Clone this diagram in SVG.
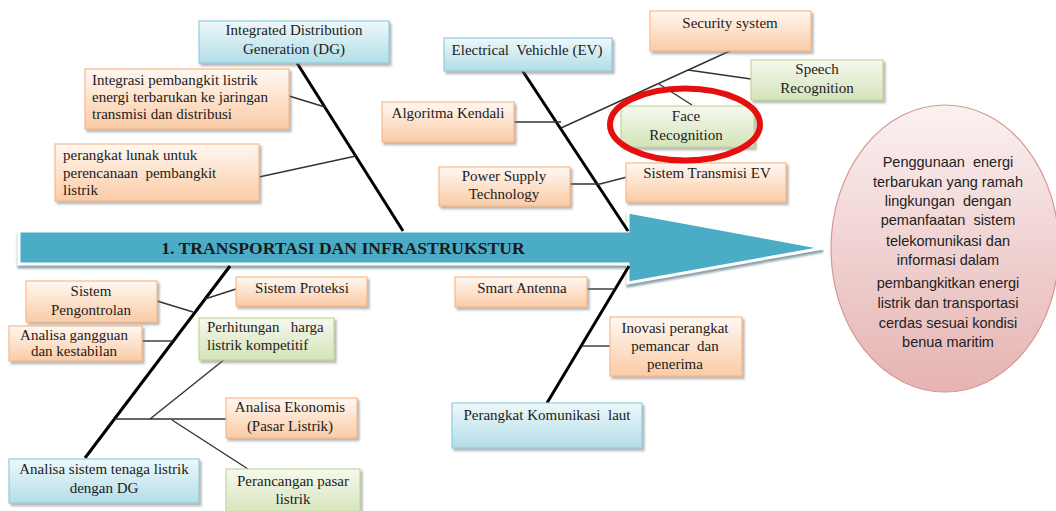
<svg xmlns="http://www.w3.org/2000/svg" width="1056" height="511" viewBox="0 0 1056 511">
<style>
.t{font-family:"Liberation Serif","Times New Roman",serif;font-size:15px;fill:#1c1c1c;white-space:pre}
.c{text-anchor:middle}
.o{fill:url(#gO);stroke:#F7B98A;stroke-width:1.2}
.b{fill:url(#gB);stroke:#92CDDC;stroke-width:1.2}
.g{fill:url(#gG);stroke:#C3D69B;stroke-width:1.2}
.sp{stroke:#000;stroke-width:3;fill:none}
.br{stroke:#333;stroke-width:1.4;fill:none}
.el{font-family:"Liberation Sans",Arial,sans-serif;font-size:14.5px;fill:#222;text-anchor:middle;white-space:pre}
</style>
<defs>
<linearGradient id="gO" x1="0" y1="0" x2="0" y2="1"><stop offset="0" stop-color="#FFF8F2"/><stop offset="1" stop-color="#FBCBA5"/></linearGradient>
<linearGradient id="gB" x1="0" y1="0" x2="0" y2="1"><stop offset="0" stop-color="#EEF8FA"/><stop offset="1" stop-color="#B3DDE8"/></linearGradient>
<linearGradient id="gG" x1="0" y1="0" x2="0" y2="1"><stop offset="0" stop-color="#F6F9EF"/><stop offset="1" stop-color="#D4E3B8"/></linearGradient>
<linearGradient id="gE" x1="0" y1="0" x2="0" y2="1"><stop offset="0" stop-color="#FBF1F1"/><stop offset="1" stop-color="#E5B3B2"/></linearGradient>
<filter id="sh" x="-10%" y="-10%" width="130%" height="140%"><feDropShadow dx="2" dy="2.5" stdDeviation="1" flood-color="#777" flood-opacity="0.55"/></filter>
<filter id="ash" x="-5%" y="-20%" width="110%" height="150%"><feDropShadow dx="0" dy="3" stdDeviation="1.2" flood-color="#6a8a90" flood-opacity="0.8"/></filter>
</defs>

<g id="arrow">
<polygon points="19,231 628,231 628,212 823,248 628,283 628,264 19,264" fill="#4BACC6" stroke="#fff" stroke-width="3" filter="url(#ash)"/>
<text x="343" y="254" class="c" style="font-family:'Liberation Serif','Times New Roman',serif;font-weight:bold;font-size:17.6px;fill:#1a1a1a">1. TRANSPORTASI DAN INFRASTRUKSTUR</text>
</g>

<g id="connectors">
<line class="sp" x1="297" y1="63" x2="403" y2="231"/>
<line class="sp" x1="522" y1="70" x2="628" y2="231"/>
<line class="sp" x1="230" y1="266" x2="85" y2="458"/>
<line class="sp" x1="629" y1="266" x2="547" y2="403"/>
<line class="br" x1="289" y1="96" x2="325" y2="107"/>
<line class="br" x1="259" y1="177" x2="356" y2="156"/>
<polyline class="br" points="514,122 561,122"/>
<line class="br" x1="561" y1="128" x2="732" y2="50"/>
<line class="br" x1="688" y1="70" x2="751" y2="79"/>
<line class="br" x1="659" y1="84" x2="692" y2="105"/>
<polyline class="br" points="570,184 600,184 627,177"/>
<line class="br" x1="157" y1="301" x2="193" y2="312"/>
<line class="br" x1="236" y1="289" x2="205" y2="299"/>
<line class="br" x1="142" y1="341" x2="173" y2="341"/>
<line class="br" x1="115" y1="419" x2="226" y2="419"/>
<line class="br" x1="150" y1="419" x2="225" y2="359"/>
<line class="br" x1="172" y1="420" x2="248" y2="469"/>
<line class="br" x1="587" y1="289" x2="615" y2="289"/>
<line class="br" x1="582" y1="346" x2="610" y2="346"/>
</g>

<g id="n-dg"><rect class="b" x="199" y="21" width="190" height="42" filter="url(#sh)"/><text class="t c" x="294" y="35">Integrated Distribution</text><text class="t c" x="294" y="54">Generation (DG)</text></g>
<g id="n-integrasi"><rect class="o" x="85" y="69" width="204" height="60" filter="url(#sh)"/><text class="t" x="92" y="85">Integrasi pembangkit listrik</text><text class="t" x="92" y="102">energi terbarukan ke jaringan</text><text class="t" x="92" y="119">transmisi dan distribusi</text></g>
<g id="n-lunak"><rect class="o" x="55" y="144" width="204" height="57" filter="url(#sh)"/><text class="t" x="63" y="160">perangkat lunak untuk</text><text class="t" x="63" y="178">perencanaan  pembangkit</text><text class="t" x="63" y="195">listrik</text></g>
<g id="n-ev"><rect class="b" x="444" y="38" width="168" height="33" filter="url(#sh)"/><text class="t c" x="527" y="55">Electrical  Vehichle (EV)</text></g>
<g id="n-algoritma"><rect class="o" x="382" y="102" width="132" height="40" filter="url(#sh)"/><text class="t c" x="448" y="118">Algoritma Kendali</text></g>
<g id="n-security"><rect class="o" x="650" y="11" width="161" height="40" filter="url(#sh)"/><text class="t c" x="730" y="28">Security system</text></g>
<g id="n-speech"><rect class="g" x="751" y="60" width="132" height="40" filter="url(#sh)"/><text class="t c" x="817" y="74">Speech</text><text class="t c" x="817" y="93">Recognition</text></g>
<g id="n-face"><rect class="g" x="621" y="106" width="133" height="41" filter="url(#sh)"/><text class="t c" x="686" y="121">Face</text><text class="t c" x="686" y="140">Recognition</text></g>
<g id="n-power"><rect class="o" x="439" y="167" width="131" height="39" filter="url(#sh)"/><text class="t c" x="504" y="181">Power Supply</text><text class="t c" x="504" y="199">Technology</text></g>
<g id="n-transmisi"><rect class="o" x="626" y="163" width="160" height="39" filter="url(#sh)"/><text class="t c" x="707" y="178">Sistem Transmisi EV</text></g>
<g id="n-pengontrolan"><rect class="o" x="26" y="281" width="131" height="41" filter="url(#sh)"/><text class="t c" x="91" y="296">Sistem</text><text class="t c" x="91" y="315">Pengontrolan</text></g>
<g id="n-proteksi"><rect class="o" x="236" y="277" width="131" height="29" filter="url(#sh)"/><text class="t c" x="302" y="293">Sistem Proteksi</text></g>
<g id="n-gangguan"><rect class="o" x="9" y="326" width="133" height="35" filter="url(#sh)"/><text class="t c" x="74" y="340">Analisa gangguan</text><text class="t c" x="74" y="356">dan kestabilan</text></g>
<g id="n-perhitungan"><rect class="g" x="199" y="318" width="135" height="42" filter="url(#sh)"/><text class="t" x="207" y="332">Perhitungan   harga</text><text class="t" x="207" y="350">listrik kompetitif</text></g>
<g id="n-ekonomis"><rect class="o" x="226" y="398" width="131" height="40" filter="url(#sh)"/><text class="t c" x="290" y="412">Analisa Ekonomis</text><text class="t c" x="290" y="431">(Pasar Listrik)</text></g>
<g id="n-perancangan"><rect class="g" x="226" y="469" width="134" height="46" filter="url(#sh)"/><text class="t c" x="293" y="486">Perancangan pasar</text><text class="t c" x="293" y="504">listrik</text></g>
<g id="n-analisa-dg"><rect class="b" x="9" y="459" width="190" height="44" filter="url(#sh)"/><text class="t c" x="104" y="474">Analisa sistem tenaga listrik</text><text class="t c" x="104" y="493">dengan DG</text></g>
<g id="n-antenna"><rect class="o" x="455" y="277" width="132" height="30" filter="url(#sh)"/><text class="t c" x="522" y="293">Smart Antenna</text></g>
<g id="n-inovasi"><rect class="o" x="610" y="317" width="132" height="59" filter="url(#sh)"/><text class="t c" x="675" y="333">Inovasi perangkat</text><text class="t c" x="675" y="351">pemancar  dan</text><text class="t c" x="675" y="369">penerima</text></g>
<g id="n-komunikasi"><rect class="b" x="452" y="403" width="190" height="45" filter="url(#sh)"/><text class="t c" x="547" y="420">Perangkat Komunikasi  laut</text></g>

<g id="highlight"><ellipse cx="685" cy="124.5" rx="75" ry="36" fill="none" stroke="#E60F0F" stroke-width="6"/></g>

<g id="n-goal">
<ellipse cx="945" cy="248.5" rx="114" ry="143.5" fill="url(#gE)" stroke="#D99694" stroke-width="1.2"/>
<text class="el" x="948" y="167">Penggunaan  energi</text>
<text class="el" x="948" y="187">terbarukan yang ramah</text>
<text class="el" x="948" y="206">lingkungan  dengan</text>
<text class="el" x="948" y="225">pemanfaatan  sistem</text>
<text class="el" x="948" y="246">telekomunikasi dan</text>
<text class="el" x="948" y="265">informasi dalam</text>
<text class="el" x="948" y="288">pembangkitkan energi</text>
<text class="el" x="948" y="308">listrik dan transportasi</text>
<text class="el" x="948" y="328">cerdas sesuai kondisi</text>
<text class="el" x="948" y="347">benua maritim</text>
</g>
</svg>
